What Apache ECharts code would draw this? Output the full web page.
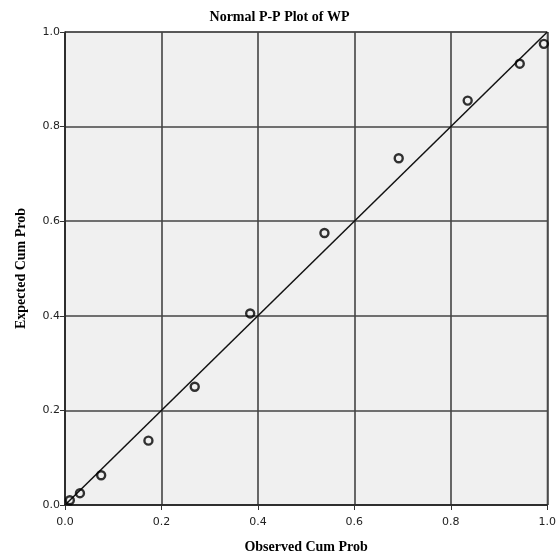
<!DOCTYPE html>
<html><head><meta charset="utf-8">
<script src="https://cdn.jsdelivr.net/npm/echarts@6/dist/echarts.min.js"></script>
<style>html,body{margin:0;padding:0;background:#fff;}#c{width:559px;height:559px;}</style>
</head><body><div id="c"></div>
<script>
var observedCumProb = [0.010, 0.031, 0.075, 0.173, 0.269, 0.384, 0.538, 0.692, 0.835, 0.943, 0.993];
var expectedCumProb = [0.010, 0.025, 0.063, 0.136, 0.250, 0.405, 0.575, 0.733, 0.855, 0.933, 0.975];
var refLineX = [0, 1];
var refLineY = [0, 1];
var titleText = 'Normal P-P Plot of WP';
var xName = 'Observed Cum Prob';
var yName = 'Expected Cum Prob';

var pts = observedCumProb.map(function(v, i){ return [v, expectedCumProb[i]]; });
var line = refLineX.map(function(v, i){ return [v, refLineY[i]]; });
var chart = echarts.init(document.getElementById('c'), null, {renderer:'canvas'});
function lbl(m){ return {fontFamily:'DejaVu Sans', fontSize:11, color:'#222', margin:m, formatter:function(v){return v.toFixed(1);}}; }
chart.setOption({
  animation:false,
  backgroundColor:'#fff',
  title:{text:titleText, left:'center', top:5, textStyle:{fontFamily:'Liberation Serif', fontWeight:'bold', fontSize:14, color:'#000'}},
  grid:{left:65, right:9, top:32, bottom:51, show:true, backgroundColor:'#f0f0f0', borderColor:'#333', borderWidth:1},
  xAxis:{type:'value', min:0, max:1, interval:0.2, name:xName, nameLocation:'middle', nameGap:35,
    nameTextStyle:{fontFamily:'Liberation Serif', fontWeight:'bold', fontSize:14, color:'#000'},
    axisLine:{lineStyle:{color:'#222', width:1.5}}, axisTick:{show:true, length:5, lineStyle:{color:'#333'}},
    splitLine:{lineStyle:{color:'#444', width:1.6}}, axisLabel:lbl(12)},
  yAxis:{type:'value', min:0, max:1, interval:0.2, name:yName, nameLocation:'middle', nameGap:37,
    nameTextStyle:{fontFamily:'Liberation Serif', fontWeight:'bold', fontSize:14, color:'#000'},
    axisLine:{lineStyle:{color:'#222', width:1.5}}, axisTick:{show:true, length:5, lineStyle:{color:'#333'}},
    splitLine:{lineStyle:{color:'#444', width:1.6}}, axisLabel:lbl(5)},
  series:[
    {type:'line', data:line, symbol:'none', lineStyle:{color:'#111', width:1.5}, silent:true, z:2},
    {type:'scatter', data:pts, symbol:'circle', symbolSize:8,
      itemStyle:{color:'rgba(0,0,0,0)', borderColor:'#000', borderWidth:2.4}, z:3}
  ]
});
</script></body></html>
